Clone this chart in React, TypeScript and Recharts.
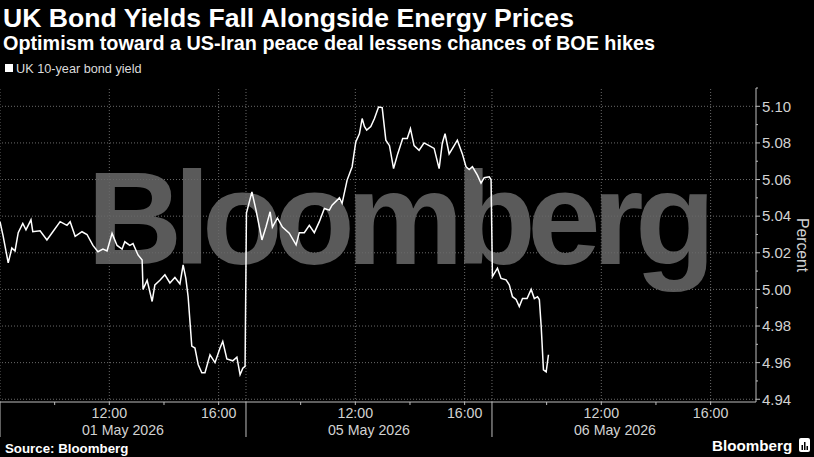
import React from "react";
import { LineChart, Line, XAxis, YAxis, ReferenceLine } from "recharts";

const title = "UK Bond Yields Fall Alongside Energy Prices";
const subtitle = "Optimism toward a US-Iran peace deal lessens chances of BOE hikes";
const legendLabel = "UK 10-year bond yield";
const sourceText = "Source: Bloomberg";
const yAxisLabel = "Percent";

const dayLabels = ["01 May 2026", "05 May 2026", "06 May 2026"];

const day1Times = ["08:00","08:07","08:18","08:26","08:33","08:40","08:50","08:57","09:08","09:12","09:28","09:43","09:56","10:12","10:27","10:34","10:45","11:00","11:11","11:24","11:35","11:46","11:55","12:06","12:17","12:28","12:34","12:45","12:52","13:03","13:12","13:14","13:23","13:34","13:40","13:51","14:02","14:13","14:24","14:35","14:42","14:48","14:53","15:01","15:08","15:15","15:23","15:30","15:41","15:52","16:03","16:09","16:18","16:31","16:40","16:47","16:53","16:58"];
const day1Yields = [5.037,5.029,5.0145,5.0226,5.021,5.031,5.036,5.0325,5.038,5.0315,5.032,5.027,5.0315,5.037,5.035,5.037,5.029,5.0315,5.03,5.024,5.0206,5.022,5.021,5.0306,5.024,5.022,5.026,5.024,5.025,5.0188,5.016,5.0,5.005,4.9934,5.0025,5.005,5.008,5.0035,5.0065,5.003,5.0134,5.006,4.996,4.969,4.968,4.959,4.9545,4.9545,4.9643,4.96,4.968,4.9716,4.962,4.961,4.963,4.9534,4.957,4.958];

const day2Times = ["08:01","08:13","08:22","08:35","08:44","08:53","08:58","09:09","09:20","09:35","09:50","09:57","10:08","10:19","10:30","10:41","10:52","11:03","11:09","11:25","11:31","11:42","11:53","12:01","12:09","12:15","12:20","12:25","12:34","12:42","12:51","12:59","13:07","13:15","13:24","13:33","13:44","13:54","14:01","14:09","14:20","14:31","14:42","14:53","15:04","15:11","15:17","15:26","15:37","15:44","15:55","16:03","16:10","16:17","16:28","16:36","16:43","16:54","16:58"];
const day2Yields = [5.0417,5.0533,5.0433,5.027,5.0342,5.0424,5.034,5.039,5.034,5.0307,5.0243,5.031,5.031,5.035,5.031,5.037,5.0442,5.0433,5.046,5.05,5.047,5.0597,5.067,5.0805,5.085,5.0933,5.089,5.087,5.089,5.0933,5.0996,5.0993,5.0815,5.0785,5.066,5.074,5.0824,5.0824,5.0878,5.0785,5.076,5.08,5.0785,5.077,5.066,5.08,5.085,5.074,5.0785,5.0815,5.074,5.067,5.0655,5.067,5.0624,5.058,5.061,5.0615,5.06];

const day3Times = ["08:01","08:12","08:20","08:31","08:38","08:45","08:53","09:00","09:07","09:17","09:26","09:33","09:40","09:44","09:48","09:53","09:59","10:04"];
const day3Yields = [5.007,5.0116,5.006,5.0052,5.0025,4.996,4.9945,4.9906,4.995,4.995,5.0,4.995,4.996,4.9945,4.98,4.9561,4.955,4.9643];

const yTicks = [4.94,4.95,4.96,4.97,4.98,4.99,5.0,5.01,5.02,5.03,5.04,5.05,5.06,5.07,5.08,5.09,5.1,5.11];
const yGrid = [4.94,4.96,4.98,5.0,5.02,5.04,5.06,5.08,5.1];
const xHourTicks = [0,2,4,6,8,9,11,13,15,17,18,20,22,24,26];
const xDayCenters = [4.5,13.5,22.5];
const xGridLines = [0,4,8,9,13,17,18,22,26];
const xTimeLabels: Record<number, string> = { 4: "12:00", 8: "16:00" };
const dayStartHour = 8;
const hoursPerDay = 9;

const toT = (d: number, hm: string) => {
  const [h, m] = hm.split(":").map(Number);
  return d * hoursPerDay + h + m / 60 - dayStartHour;
};

const days = [
  [day1Times, day1Yields],
  [day2Times, day2Yields],
  [day3Times, day3Yields],
] as const;

const data = days.flatMap(([times, vals], d) =>
  times.map((tm, i) => ({ t: toT(d, tm), v: vals[i] }))
);

const FONT = "'Liberation Sans', Arial, sans-serif";
const TICK_COLOR = "#d2d2d2";
const AXIS_COLOR = "#bdbdbd";
const GRID_COLOR = "#6a6a6a";

const XTick = (props: any) => {
  const { x, y, payload } = props;
  const v = payload.value as number;
  const center = xDayCenters.indexOf(v);
  if (center >= 0) {
    return (
      <text x={x} y={y + 32.5} textAnchor="middle" fill={TICK_COLOR} fontSize={14.2} fontFamily={FONT}>
        {dayLabels[center]}
      </text>
    );
  }
  const isBoundary = v % hoursPerDay === 0;
  const rel = v % hoursPerDay;
  const label = xTimeLabels[rel];
  return (
    <g>
      <line x1={x} x2={x} y1={y} y2={y + (isBoundary ? 35 : 3)} stroke={AXIS_COLOR} strokeWidth={1} />
      {label ? (
        <text x={x} y={y + 15.5} textAnchor="middle" fill={TICK_COLOR} fontSize={14.2} fontFamily={FONT}>
          {label}
        </text>
      ) : null}
    </g>
  );
};

const YTick = (props: any) => {
  const { x, y, payload } = props;
  const v = payload.value as number;
  const major = Math.round(v * 100) % 2 === 0;
  return (
    <g>
      <line x1={x} x2={x + (major ? 4 : 2)} y1={y} y2={y} stroke={AXIS_COLOR} strokeWidth={1} />
      {major ? (
        <text x={x + 6} y={y + 5.3} textAnchor="start" fill={TICK_COLOR} fontSize={15} fontFamily={FONT}>
          {v.toFixed(2)}
        </text>
      ) : null}
    </g>
  );
};

export default function App() {
  return (
    <div style={{ position: "absolute", left: 0, top: 0, width: 814, height: 457, background: "#000", overflow: "hidden" }}>
      <svg width={814} height={457} style={{ position: "absolute", left: 0, top: 0 }}>
        <text x={87} y={264} fill="#5a5a5a" fontSize={132} fontWeight="bold" fontFamily={FONT} letterSpacing={-8.5}>
          Bloomberg
        </text>
        <text x={3} y={27} fill="#fff" fontSize={26.6} fontWeight="bold" fontFamily={FONT}>
          {title}
        </text>
        <text x={3} y={50} fill="#fff" fontSize={19.8} fontWeight="bold" fontFamily={FONT}>
          {subtitle}
        </text>
        <rect x={5} y={64} width={8} height={8} fill="#fff" />
        <text x={16} y={72.5} fill="#dcdcdc" fontSize={12.7} fontFamily={FONT}>
          {legendLabel}
        </text>
        <text transform="translate(797,245) rotate(90)" textAnchor="middle" fill={TICK_COLOR} fontSize={15.7} fontFamily={FONT}>
          {yAxisLabel}
        </text>
        <text x={5} y={453} fill="#fff" fontSize={13.3} fontWeight="bold" fontFamily={FONT}>
          {sourceText}
        </text>
        <text x={712} y={451} fill="#fff" fontSize={15.2} fontWeight="bold" fontFamily={FONT}>
          Bloomberg
        </text>
        <rect x={799} y={438} width={11} height={14} rx={2} fill="#fff" />
        <rect x={801.5} y={445} width={1.5} height={5} fill="#000" />
        <rect x={804} y={442} width={1.5} height={8} fill="#000" />
        <rect x={806.5} y={446} width={1.5} height={4} fill="#000" />
      </svg>
      <div style={{ position: "absolute", left: 0, top: 0 }}>
        <LineChart width={814} height={457} data={data} margin={{ top: 88, right: 0, bottom: 20, left: 0 }}>
          {yGrid.map((g) => (
            <ReferenceLine key={"h" + g} y={g} stroke={GRID_COLOR} strokeDasharray="1 2" />
          ))}
          {xGridLines.map((g) => (
            <ReferenceLine key={"v" + g} x={g} stroke={GRID_COLOR} strokeDasharray="1 2" />
          ))}
          <XAxis
            dataKey="t"
            type="number"
            domain={[0, 27.66]}
            ticks={[...xHourTicks, ...xDayCenters].sort((a, b) => a - b)}
            interval={0}
            tick={<XTick />}
            tickSize={0}
            tickMargin={0}
            tickLine={false}
            axisLine={{ stroke: AXIS_COLOR }}
            height={35}
            allowDataOverflow
          />
          <YAxis
            orientation="right"
            type="number"
            domain={[4.9385, 5.11]}
            ticks={yTicks}
            interval={0}
            tick={<YTick />}
            tickSize={0}
            tickMargin={0}
            tickLine={false}
            axisLine={{ stroke: AXIS_COLOR }}
            width={58}
            allowDataOverflow
          />
          <Line type="linear" dataKey="v" stroke="#fff" strokeWidth={1.5} dot={false} isAnimationActive={false} />
        </LineChart>
      </div>
    </div>
  );
}
